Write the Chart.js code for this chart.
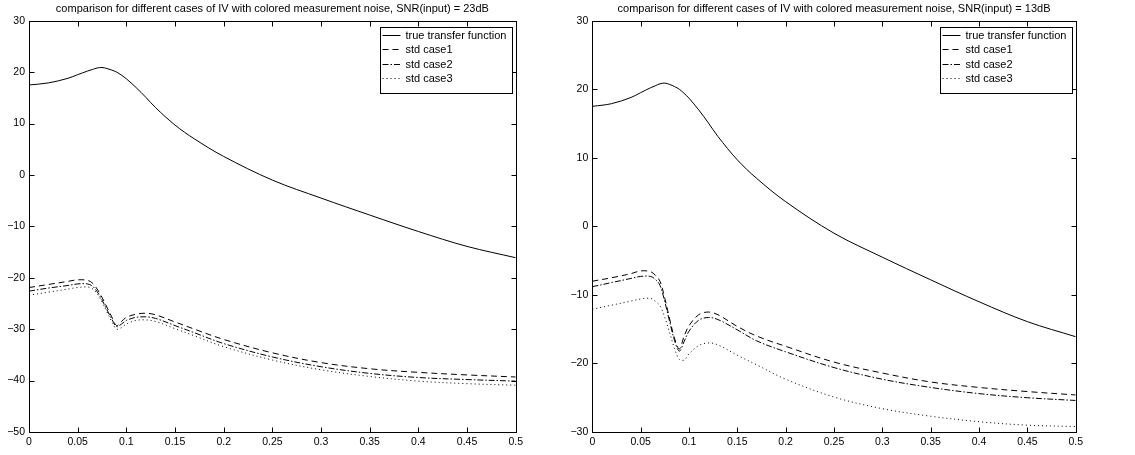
<!DOCTYPE html>
<html>
<head>
<meta charset="utf-8">
<script src="https://cdn.jsdelivr.net/npm/chart.js@4.4.1/dist/chart.umd.min.js"></script>
<style>
    html, body { margin: 0; padding: 0; background: #fff; }
    body { width: 1135px; height: 455px; position: relative; overflow: hidden; }
    .panel { position: absolute; top: 0; height: 455px; }
    #leftPanel { left: 0; width: 560px; }
    #rightPanel { left: 565px; width: 570px; }
</style>
</head>
<body>
<div class="panel" id="leftPanel"><canvas id="leftChart" width="560" height="455"></canvas></div>
<div class="panel" id="rightPanel"><canvas id="rightChart" width="570" height="455"></canvas></div>
<script>
// ===== Data =====
const freq = [0, 0.02, 0.04, 0.05, 0.06, 0.065, 0.07, 0.075, 0.08, 0.085, 0.09, 0.095, 0.1,
              0.11, 0.12, 0.13, 0.15, 0.17, 0.2, 0.25, 0.3, 0.35, 0.4, 0.45, 0.5];

// same true transfer function in both panels
const trueTF = [17.5, 17.9, 18.8, 19.5, 20.2, 20.5, 20.8, 20.9, 20.7, 20.4, 20.0, 19.4, 18.7,
                17.0, 15.1, 13.1, 9.7, 7.0, 3.6, -1.0, -4.5, -7.8, -11.0, -13.9, -16.1];

// left panel, SNR 23dB
const leftCase1 = [-21.9, -21.3, -20.7, -20.4, -20.5, -21.0, -22.2, -23.8, -25.7, -27.6, -29.3, -28.5, -27.7,
                   -27.1, -26.9, -27.2, -28.6, -30.0, -32.0, -34.6, -36.5, -37.7, -38.4, -38.9, -39.3];
const leftCase2 = [-22.6, -22.0, -21.5, -21.2, -21.2, -21.6, -22.7, -24.3, -26.2, -28.0, -29.5, -29.0, -28.3,
                   -27.7, -27.6, -27.9, -29.3, -30.7, -32.8, -35.4, -37.3, -38.6, -39.4, -39.8, -40.1];
const leftCase3 = [-23.4, -22.8, -22.2, -21.9, -21.8, -22.1, -23.1, -24.7, -26.6, -28.5, -30.0, -29.7, -29.0,
                   -28.3, -28.2, -28.5, -29.9, -31.3, -33.4, -36.0, -37.9, -39.2, -40.1, -40.6, -40.9];

// right panel, SNR 13dB
const rightCase1 = [-8.0, -7.5, -6.9, -6.5, -6.6, -7.1, -8.0, -10.5, -13.5, -16.3, -17.9, -16.0, -14.5,
                    -12.9, -12.5, -12.9, -14.6, -16.0, -17.5, -19.8, -21.4, -22.7, -23.5, -24.1, -24.6];
const rightCase2 = [-8.8, -8.2, -7.6, -7.3, -7.3, -7.7, -8.6, -11.0, -13.9, -16.6, -18.2, -16.8, -15.3,
                    -13.7, -13.3, -13.6, -15.1, -16.7, -18.3, -20.6, -22.3, -23.5, -24.4, -25.0, -25.4];
const rightCase3 = [-12.1, -11.5, -10.9, -10.6, -10.5, -10.9, -11.6, -13.3, -15.5, -17.8, -19.4, -19.5, -18.6,
                    -17.4, -17.0, -17.3, -18.8, -20.2, -22.3, -24.9, -26.6, -27.7, -28.5, -29.0, -29.2];

const seriesNames = ["true transfer function", "std case1", "std case2", "std case3"];
const xTicks = [0, 0.05, 0.1, 0.15, 0.2, 0.25, 0.3, 0.35, 0.4, 0.45, 0.5];
const yTicksLeft = [-50, -40, -30, -20, -10, 0, 10, 20, 30];
const yTicksRight = [-30, -20, -10, 0, 10, 20, 30];
const titleLeft = "comparison for different cases of IV with colored measurement noise, SNR(input) = 23dB";
const titleRight = "comparison for different cases of IV with colored measurement noise, SNR(input) = 13dB";

// ===== Styling =====
const FONT = "'Liberation Sans', Arial, Helvetica, sans-serif";
Chart.defaults.color = "#000";
Chart.defaults.font.family = FONT;

const lineDashes = [[], [6, 4], [6, 2, 1.5, 2], [1, 3]];

// box round the plot + inward ticks on all four sides
const frameTicks = {
    id: "frameTicks",
    afterDatasetsDraw(chart) {
        const { ctx, chartArea: a, scales } = chart;
        const L = Math.round(a.left) + 0.5, R = Math.round(a.right) + 0.5;
        const T = Math.round(a.top) + 0.5, B = Math.round(a.bottom) + 0.5;
        ctx.save();
        ctx.strokeStyle = "#000";
        ctx.lineWidth = 1;
        ctx.setLineDash([]);
        ctx.strokeRect(L, T, R - L, B - T);
        ctx.beginPath();
        scales.x.ticks.forEach((t) => {
            const px = Math.round(scales.x.getPixelForValue(t.value)) + 0.5;
            ctx.moveTo(px, B); ctx.lineTo(px, B - 5);
            ctx.moveTo(px, T); ctx.lineTo(px, T + 5);
        });
        scales.y.ticks.forEach((t) => {
            const py = Math.round(scales.y.getPixelForValue(t.value)) + 0.5;
            ctx.moveTo(L, py); ctx.lineTo(L + 5, py);
            ctx.moveTo(R, py); ctx.lineTo(R - 5, py);
        });
        ctx.stroke();
        ctx.restore();
    }
};

// boxed legend in the upper right corner of the plot
const boxLegend = {
    id: "boxLegend",
    afterDraw(chart, args, opts) {
        const { ctx, chartArea: a } = chart;
        ctx.save();
        ctx.font = "11px " + FONT;
        const textW = Math.max(...chart.data.datasets.map((d) => ctx.measureText(d.label).width));
        const w = Math.round(textW + 31), h = 66;
        const x = Math.round(a.right - opts.inset - w) + 0.5, y = Math.round(a.top + 6) + 0.5;
        ctx.fillStyle = "#fff";
        ctx.fillRect(x, y, w, h);
        ctx.strokeStyle = "#000";
        ctx.lineWidth = 1;
        ctx.strokeRect(x, y, w, h);
        ctx.textBaseline = "middle";
        chart.data.datasets.forEach((d, i) => {
            const cy = Math.round(y + 7 + 14.6 * i) + 0.5;
            ctx.setLineDash(d.borderDash || []);
            ctx.beginPath();
            ctx.moveTo(x + 2, cy);
            ctx.lineTo(x + 20, cy);
            ctx.stroke();
            ctx.fillStyle = "#000";
            ctx.fillText(d.label, x + 25, cy);
        });
        ctx.restore();
    }
};

function makeChart(canvasId, title, cases, yTicks, yMin, yMax, yWidth, padRight, legendInset) {
    const all = [trueTF].concat(cases);
    const datasets = all.map((vals, i) => ({
        label: seriesNames[i],
        data: freq.map((f, k) => ({ x: f, y: vals[k] })),
        borderColor: "#000",
        borderWidth: 1,
        borderDash: lineDashes[i],
        pointRadius: 0,
        fill: false,
        tension: 0.35
    }));

    return new Chart(document.getElementById(canvasId), {
        type: "line",
        data: { datasets },
        options: {
            responsive: false,
            animation: false,
            layout: { padding: { left: 0, right: padRight, top: 0, bottom: 0 } },
            plugins: {
                legend: { display: false },
                tooltip: { enabled: false },
                title: {
                    display: true,
                    text: title,
                    fullSize: false,
                    color: "#000",
                    font: { size: 11, weight: "normal", family: FONT },
                    padding: { top: 2, bottom: 5.5 }
                },
                boxLegend: { inset: legendInset }
            },
            scales: {
                x: {
                    type: "linear",
                    min: 0,
                    max: 0.5,
                    afterBuildTicks: (s) => { s.ticks = xTicks.map((v) => ({ value: v })); },
                    afterFit: (s) => { s.height = 23; },
                    grid: { display: false, drawTicks: false },
                    border: { display: false },
                    ticks: {
                        padding: 4,
                        maxRotation: 0,
                        autoSkip: false,
                        font: { size: 10.5 },
                        callback: (v) => String(v)
                    }
                },
                y: {
                    type: "linear",
                    min: yMin,
                    max: yMax,
                    afterBuildTicks: (s) => { s.ticks = yTicks.map((v) => ({ value: v })); },
                    afterFit: (s) => { s.width = yWidth; },
                    grid: { display: false, drawTicks: false },
                    border: { display: false },
                    ticks: {
                        padding: 4,
                        autoSkip: false,
                        font: { size: 10.5 },
                        callback: (v) => (v < 0 ? "\u2212" + Math.abs(v) : String(v))
                    }
                }
            }
        },
        plugins: [frameTicks, boxLegend]
    });
}

makeChart("leftChart", titleLeft, [leftCase1, leftCase2, leftCase3], yTicksLeft, -50, 30, 29, 44.3, 3.5);
makeChart("rightChart", titleRight, [rightCase1, rightCase2, rightCase3], yTicksRight, -30, 30, 27.3, 59.3, 4);
</script>
</body>
</html>
